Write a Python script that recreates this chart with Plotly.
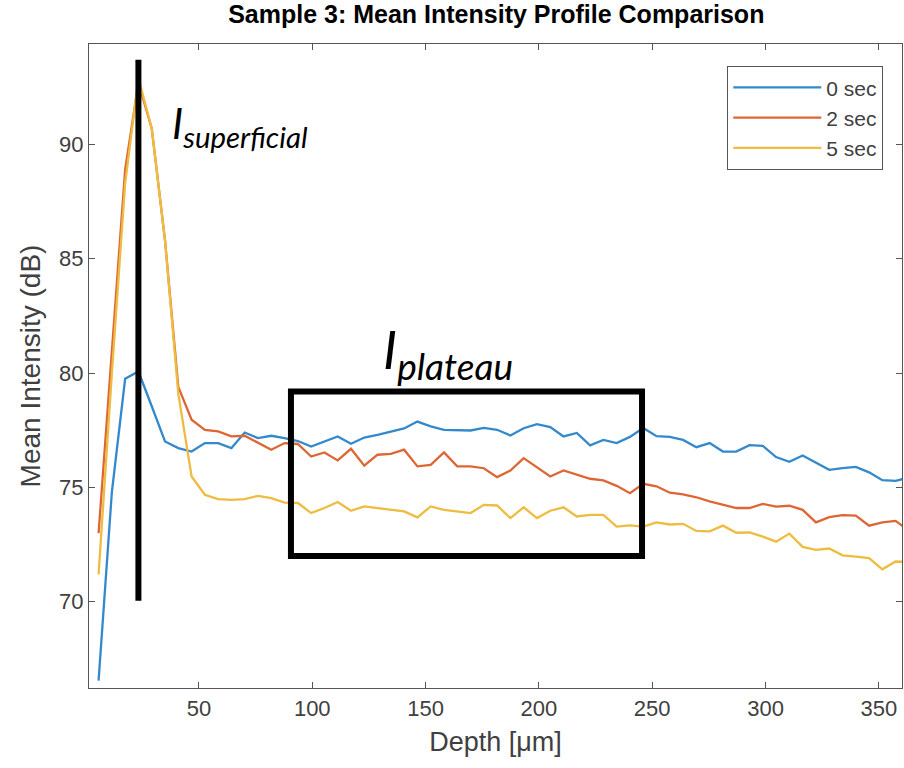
import plotly.graph_objects as go

# ---- data ----
depth_um = [5.73, 11.59, 17.45, 23.31, 29.18, 35.04, 40.90, 46.76, 52.62, 58.48,
            64.34, 70.20, 76.06, 81.92, 87.79, 93.65, 99.51, 105.37, 111.23, 117.09,
            122.95, 128.81, 134.67, 140.53, 146.40, 152.26, 158.12, 163.98, 169.84, 175.70,
            181.56, 187.42, 193.28, 199.14, 205.01, 210.87, 216.73, 222.59, 228.45, 234.31,
            240.17, 246.03, 251.89, 257.75, 263.62, 269.48, 275.34, 281.20, 287.06, 292.92,
            298.78, 304.64, 310.50, 316.36, 322.23, 328.09, 333.95, 339.81, 345.67, 351.53,
            357.39, 363.25]

sec0 = [66.55, 74.8, 79.75, 80.07, 78.55, 77.01, 76.72, 76.57, 76.94, 76.94,
        76.72, 77.40, 77.16, 77.26, 77.16, 77.03, 76.79, 77.01, 77.23, 76.91,
        77.18, 77.30, 77.45, 77.58, 77.88, 77.67, 77.52, 77.49, 77.49, 77.60,
        77.52, 77.27, 77.59, 77.77, 77.64, 77.23, 77.38, 76.84, 77.08, 76.94,
        77.21, 77.60, 77.24, 77.21, 77.08, 76.76, 76.94, 76.57, 76.57, 76.85,
        76.82, 76.33, 76.12, 76.40, 76.08, 75.77, 75.84, 75.90, 75.66, 75.32,
        75.29, 75.43]

sec2 = [73.0, 81.0, 88.9, 92.7, 90.7, 85.8, 79.4, 77.96, 77.52, 77.45,
        77.23, 77.26, 76.94, 76.65, 76.94, 76.90, 76.35, 76.53, 76.18, 76.69,
        75.95, 76.43, 76.47, 76.65, 75.92, 75.99, 76.53, 75.92, 75.92, 75.84,
        75.45, 75.74, 76.28, 75.89, 75.48, 75.74, 75.55, 75.38, 75.31, 75.07,
        74.75, 75.16, 75.05, 74.77, 74.70, 74.57, 74.39, 74.24, 74.10, 74.10,
        74.28, 74.16, 74.20, 74.02, 73.47, 73.70, 73.79, 73.77, 73.33, 73.47,
        73.54, 73.10]

sec5 = [71.2, 80.0, 88.3, 92.9, 90.7, 85.8, 79.1, 75.48, 74.68, 74.49,
        74.46, 74.49, 74.63, 74.53, 74.34, 74.32, 73.88, 74.10, 74.36, 73.98,
        74.17, 74.10, 74.05, 73.95, 73.69, 74.17, 74.02, 73.95, 73.88, 74.24,
        74.21, 73.66, 74.13, 73.66, 73.98, 74.13, 73.73, 73.80, 73.80, 73.29,
        73.34, 73.29, 73.47, 73.38, 73.41, 73.10, 73.08, 73.33, 73.02, 73.03,
        72.85, 72.63, 72.98, 72.40, 72.27, 72.33, 72.03, 71.97, 71.91, 71.42,
        71.76, 71.74]

series_names = ["0 sec", "2 sec", "5 sec"]
series_colors = ["#3389cc", "#de6634", "#edbc40"]

x_ticks = [50, 100, 150, 200, 250, 300, 350]
y_ticks = [70, 75, 80, 85, 90]
x_range = [1.5, 360.2]
y_range = [66.23, 94.39]

# annotation geometry (data units)
superficial_depth = 23.3
superficial_span = [70.05, 93.7]
plateau_depth = [90.6, 245.5]
plateau_span = [72.0, 79.2]

title = "Sample 3: Mean Intensity Profile Comparison"
xlabel = "Depth [\u03bcm]"
ylabel = "Mean Intensity (dB)"

FONT = "Liberation Sans, Arial"

# ---- figure ----
fig = go.Figure()
for name, vals, col in zip(series_names, [sec0, sec2, sec5], series_colors):
    fig.add_trace(go.Scatter(x=depth_um, y=vals, mode="lines", name=name,
                             line=dict(color=col, width=2.3)))

fig.add_shape(type="line", x0=superficial_depth, x1=superficial_depth,
              y0=superficial_span[0], y1=superficial_span[1],
              xref="x", yref="y", line=dict(color="black", width=6))
fig.add_shape(type="rect", x0=plateau_depth[0], x1=plateau_depth[1],
              y0=plateau_span[0], y1=plateau_span[1],
              xref="x", yref="y", line=dict(color="black", width=6))

fig.add_annotation(x=37.3, y=90.8, xref="x", yref="y", xanchor="left", yanchor="middle",
                   text="<i>I<sub>superficial</sub></i>", showarrow=False,
                   font=dict(family="Lato", size=42, color="black"))
fig.add_annotation(x=130.2, y=80.9, xref="x", yref="y", xanchor="left", yanchor="middle",
                   text="<i>I<sub>plateau</sub></i>", showarrow=False,
                   font=dict(family="Lato", size=53, color="black"))

axis_common = dict(showgrid=False, zeroline=False, showline=True, linecolor="#555555",
                   linewidth=1.3, mirror="ticks", ticks="inside", ticklen=6,
                   tickcolor="#555555", tickwidth=1.3,
                   tickfont=dict(family=FONT, size=22, color="#404040"))

fig.update_xaxes(range=x_range, tickvals=x_ticks, **axis_common,
                 title=dict(text=xlabel, font=dict(family=FONT, size=27, color="#404040"),
                            standoff=12))
fig.update_yaxes(range=y_range, tickvals=y_ticks, **axis_common,
                 title=dict(text=ylabel, font=dict(family=FONT, size=28, color="#404040"),
                            standoff=10))

fig.update_layout(
    width=904, height=768,
    margin=dict(l=89, r=2, t=44, b=80),
    paper_bgcolor="white", plot_bgcolor="white",
    title=dict(text="<b>" + title + "</b>", x=0.549, xanchor="center", y=0.982, yanchor="middle",
               font=dict(family=FONT, size=25, color="black")),
    legend=dict(x=0.9766, y=0.966, xanchor="right", yanchor="top",
                bgcolor="white", bordercolor="#555555", borderwidth=1.3,
                font=dict(family=FONT, size=21, color="#404040"),
                itemwidth=88, tracegroupgap=0),
    showlegend=True,
)

fig.write_html("out.html")
